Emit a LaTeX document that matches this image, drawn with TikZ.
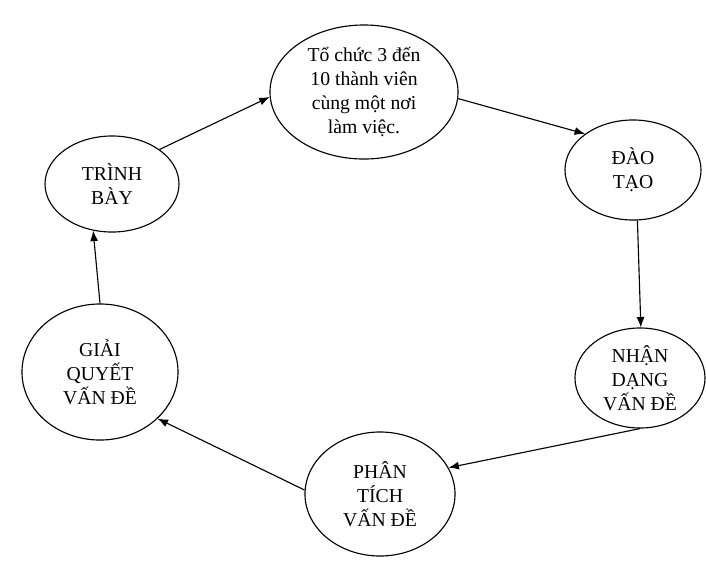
\documentclass[tikz,border=0pt]{standalone}
\usepackage{fontspec}
\setmainfont{Liberation Serif}
\usetikzlibrary{shapes.geometric,arrows.meta}

\begin{document}
\begin{tikzpicture}[x=0.025cm, y=-0.025cm,
	step box/.style={ellipse, draw, thick, inner sep=0pt, align=center,
		font=\fontsize{14}{17}\selectfont},
	flow/.style={-{Latex[length=2.6mm, width=2mm]}, thick}]
	\useasboundingbox (0,0) rectangle (706,561);

	% cycle steps
	\node[step box, minimum width=4.7cm, minimum height=3.35cm] (tochuc) at (364,92)
		{Tổ chức 3 đến\\10 thành viên\\cùng một nơi\\làm việc.};
	\node[step box, minimum width=3.4cm, minimum height=2.5cm] (daotao) at (633,170) {ĐÀO\\TẠO};
	\node[step box, minimum width=3.25cm, minimum height=2.5cm] (nhandang) at (640,378) {NHẬN\\DẠNG\\VẤN ĐỀ};
	\node[step box, minimum width=3.75cm, minimum height=3.1cm] (phantich) at (380,494) {PHÂN\\TÍCH\\VẤN ĐỀ};
	\node[step box, minimum width=3.9cm, minimum height=3.4cm] (giaiquyet) at (100,372) {GIẢI\\QUYẾT\\VẤN ĐỀ};
	\node[step box, minimum width=3.35cm, minimum height=2.4cm] (trinhbay) at (112,184) {TRÌNH\\BÀY};

	% arrows
	\draw[flow] (trinhbay.36) -- (tochuc.183);
	\draw[flow] (tochuc.356) -- (daotao.143);
	\draw[flow] (daotao.-85) -- (nhandang.89);
	\draw[flow] (nhandang.-90) -- (phantich.21);
	\draw[flow] (phantich.177) -- (giaiquyet.-39);
	\draw[flow] (giaiquyet.90) -- (trinhbay.-112);
\end{tikzpicture}
\end{document}
